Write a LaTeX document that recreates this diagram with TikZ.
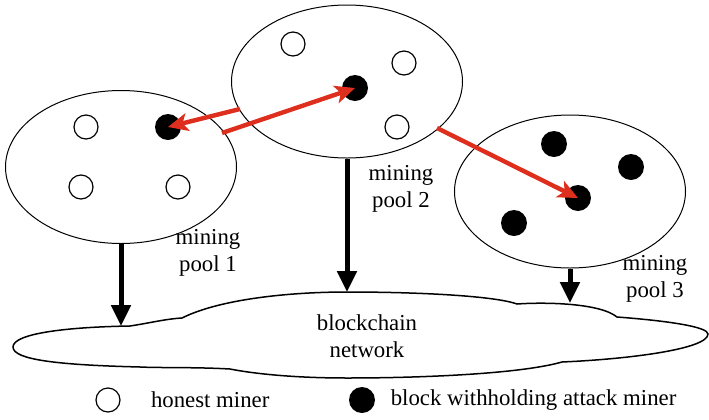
\documentclass[tikz,border=0pt]{standalone}
\usepackage{fontspec}
\setmainfont{Liberation Serif}
\usepackage{tikz}
\usetikzlibrary{arrows.meta, shapes.geometric, positioning}
\definecolor{attackred}{RGB}{221,46,30}
\tikzset{ x=0.5pt, y=-0.5pt, >=Latex,
  pool/.style={draw, ellipse, line width=0.5pt, minimum width=115.5pt, minimum height=76.5pt, inner sep=0pt},
  honest/.style={draw, circle, line width=0.6pt, minimum size=12pt, inner sep=0pt},
  attacker/.style={fill=black, circle, minimum size=13pt, inner sep=0pt},
  lbl/.style={font=\fontsize{11.4}{13.5}\selectfont, align=center, inner sep=0pt},
  feed/.style={line width=2.5pt, -{Triangle[length=10.5pt, width=9.5pt]}},
  attack/.style={draw=attackred, line width=2.2pt, -{Stealth[length=10pt, width=9pt, inset=2.5pt]}} }

\begin{document}
\begin{tikzpicture}
\useasboundingbox (0,0) rectangle (709,419);
\node[pool] (pool1) at (121,167) {};
\node[pool] (pool2) at (347,81.5) {};
\node[pool] (pool3) at (570,191.5) {};
\node[honest] (m11) at (86,127) {}; \node[attacker] (m12) at (168,127) {};
\node[honest] (m13) at (81,187) {}; \node[honest] (m14) at (178,187) {};
\node[honest] (m21) at (293,44) {}; \node[attacker] (m22) at (355,88) {};
\node[honest] (m23) at (404,63) {}; \node[honest] (m24) at (397,127) {};
\node[attacker] (m31) at (554,144) {}; \node[attacker] (m32) at (631,167) {};
\node[attacker] (m33) at (578,198) {}; \node[attacker] (m34) at (514,223) {};
\coordinate (a1) at (240,109); \coordinate (a2) at (222,133); \coordinate (a3) at (437,128);
\draw[attack] (a1) -- (m12.center);
\draw[attack] (a2) -- (m22.center);
\draw[attack] (a3) -- (m33.center);
\draw[line width=0.75pt] (13,347) .. controls (13,333) and (70,327) .. (130,326)
  .. controls (150,323) and (165,319) .. (182,318)
  .. controls (220,299) and (290,292) .. (347,292)
  .. controls (420,292) and (495,296) .. (517,304)
  .. controls (545,302) and (600,303) .. (617,317)
  .. controls (670,321) and (708,327) .. (708,334)
  .. controls (708,349) and (630,359) .. (562,362)
  .. controls (520,374) and (420,378) .. (347,378)
  .. controls (290,378) and (250,373) .. (230,369)
  .. controls (195,367) and (160,368) .. (140,367)
  .. controls (60,365) and (13,360) .. (13,347) -- cycle;
\coordinate (n1) at (121,326); \coordinate (n2) at (347,292); \coordinate (n3) at (570,303);
\draw[feed] (pool1.south) -- (n1);
\draw[feed] (pool2.south) -- (n2);
\draw[feed] (pool3.south) -- (n3);
\node[lbl] (lab1) at (208,253) {mining\\pool 1};
\node[lbl] (lab2) at (401,188.75) {mining\\pool 2};
\node[lbl] (lab3) at (655,278.75) {mining\\pool 3};
\node[lbl] (net) at (367,336) {blockchain\\network};
\node[honest] (keyh) at (108,400) {};
\node[lbl, right=15pt of keyh] (keyhtext) {honest miner};
\node[attacker] (keya) at (362,400) {};
\node[lbl, right=7.5pt of keya] (keyatext) {block withholding attack miner};
\end{tikzpicture}
\end{document}
